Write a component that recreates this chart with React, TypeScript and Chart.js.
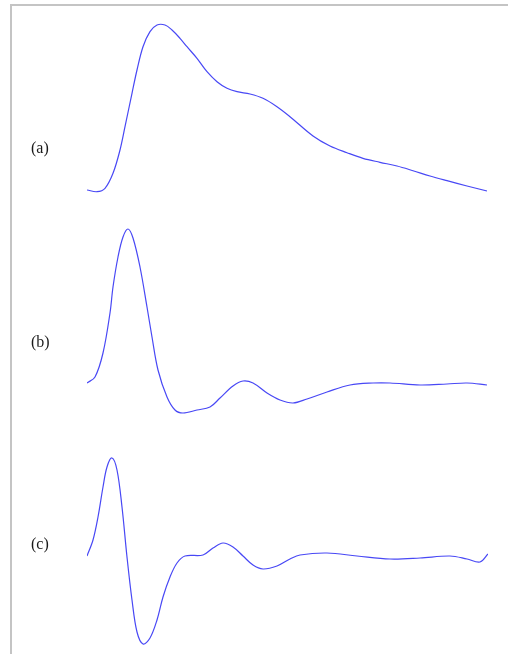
import React, { useEffect, useRef } from "react";
import { Chart, registerables } from "chart.js";

Chart.register(...registerables);

// Panel labels
const panelLabels = ["(a)", "(b)", "(c)"];

// (a) time samples and amplitudes
const timeA = [0, 10, 18, 26, 33, 38, 45, 50, 56, 63, 70, 78, 85, 93, 100, 110, 120, 130, 140, 150, 163, 176, 190, 203, 226, 243, 260, 276, 293, 310, 326, 343, 360, 380, 400];
const valA = [1, -0.7, 2.7, 17.7, 41, 64.3, 97.7, 121, 144.3, 159.3, 166, 166, 161, 152.7, 144.3, 132.7, 119.3, 109.3, 102.7, 99.3, 97, 92.7, 84.3, 74.3, 55, 45, 38.3, 32.7, 28.7, 25, 20.3, 15, 10.3, 5, 0];

// (b)
const timeB = [0, 8, 16, 23, 26, 31, 36, 41, 46, 53, 60, 65, 71, 80, 88, 96, 110, 123, 133, 146, 156, 166, 180, 193, 206, 220, 240, 263, 286, 303, 333, 360, 380, 400];
const valB = [0, 6, 30, 70, 96, 126, 146, 154, 145, 116, 76, 46, 13, -14, -27, -30, -27, -24, -15, -3, 2, 0, -10, -17, -20, -16, -9, -2, 0, 0, -2, -1, 0, -2];

// (c)
const timeC = [0, 6, 11, 16, 20, 25, 30, 35, 40, 45, 50, 56, 63, 70, 76, 83, 90, 98, 116, 126, 136, 146, 156, 166, 176, 190, 203, 213, 240, 270, 303, 333, 363, 380, 393, 401];
const valC = [0, 16, 39, 69, 89, 98, 86, 49, -1, -44, -76, -88, -82, -64, -41, -21, -7, 0, 1, 8, 13, 9, 0, -9, -13, -10, -3, 1, 3, 0, -3, -2, 0, -3, -6, 2];

// vertical windows of the three panels (axis ranges)
const rangeA = { min: -463, max: 191 };
const rangeB = { min: -271, max: 383 };
const rangeC = { min: -98, max: 556 };

const LINE = "rgb(72,72,245)";

function toPoints(t: number[], v: number[]) {
  return t.map((x, i) => ({ x, y: v[i] }));
}

export default function App() {
  const ref = useRef<HTMLCanvasElement | null>(null);

  useEffect(() => {
    if (!ref.current) return;
    const ds = (data: { x: number; y: number }[], axis: string) => ({
      data,
      yAxisID: axis,
      borderColor: LINE,
      borderWidth: 1.2,
      pointRadius: 0,
      fill: false,
      tension: 0.35,
    });
    const chart = new Chart(ref.current, {
      type: "line",
      data: {
        datasets: [
          ds(toPoints(timeA, valA), "ya"),
          ds(toPoints(timeB, valB), "yb"),
          ds(toPoints(timeC, valC), "yc"),
        ],
      },
      options: {
        responsive: false,
        animation: false,
        layout: { padding: { left: 87, right: 20, top: 0, bottom: 0 } },
        plugins: { legend: { display: false }, tooltip: { enabled: false } },
        scales: {
          x: { type: "linear", min: 0, max: 401, display: false },
          ya: { type: "linear", position: "left", ...rangeA, display: false },
          yb: { type: "linear", position: "left", ...rangeB, display: false },
          yc: { type: "linear", position: "left", ...rangeC, display: false },
        },
      },
    });
    return () => chart.destroy();
  }, []);

  const labelTops = [139, 333, 535];

  return (
    <div style={{ position: "absolute", left: 0, top: 0, width: 508, height: 654, background: "#fff", overflow: "hidden" }}>
      <div
        style={{
          position: "absolute",
          left: 10,
          top: 4,
          width: 520,
          height: 700,
          borderLeft: "2px solid #c4c4c4",
          borderTop: "2px solid #c4c4c4",
        }}
      />
      <canvas ref={ref} width={508} height={654} style={{ position: "absolute", left: 0, top: 0, width: 508, height: 654 }} />
      {panelLabels.map((l, i) => (
        <span
          key={l}
          style={{
            position: "absolute",
            left: 31,
            top: labelTops[i],
            fontFamily: "'Liberation Serif', 'DejaVu Serif', serif",
            fontSize: 16,
            lineHeight: "18px",
            color: "#1a1a1a",
          }}
        >
          {l}
        </span>
      ))}
    </div>
  );
}
